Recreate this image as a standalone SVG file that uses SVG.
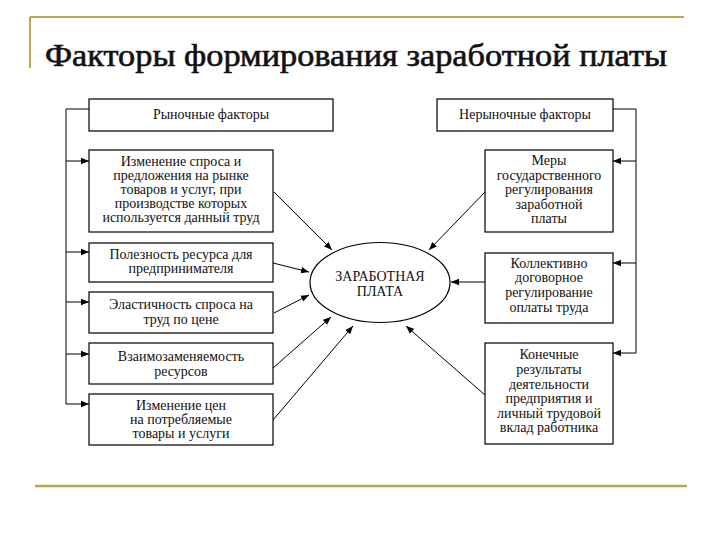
<svg xmlns="http://www.w3.org/2000/svg" width="720" height="540" viewBox="0 0 720 540">
<defs>
<style>
.box{fill:#fff;stroke:#000;stroke-width:1.2}
.t{font-family:"Liberation Serif","DejaVu Serif",serif;font-size:14px;fill:#111;text-anchor:middle}
.c{stroke:#000;stroke-width:1;fill:none}
.ca{stroke:#000;stroke-width:1;fill:none;marker-end:url(#ah)}
.deco{stroke:#bfa452;fill:none}
</style>
<marker id="ah" viewBox="0 0 10 10" refX="10" refY="5" markerWidth="8" markerHeight="8" markerUnits="userSpaceOnUse" orient="auto">
<path d="M0,1 L10,5 L0,9 z" fill="#000"/>
</marker>
</defs>
<rect width="720" height="540" fill="#fff"/>
<g id="frame">
<line class="deco" x1="30" y1="17" x2="684" y2="17" stroke-width="2"/>
<line class="deco" x1="30" y1="17" x2="30" y2="68" stroke-width="2"/>
<line class="deco" x1="35" y1="486" x2="687" y2="486" stroke-width="2.5"/>
</g>
<text id="title" x="45" y="66" font-family="Liberation Serif, DejaVu Serif, serif" font-size="31" fill="#111" stroke="#111" stroke-width="0.6" textLength="622" lengthAdjust="spacingAndGlyphs">Факторы формирования заработной платы</text>
<g id="connectors">
<polyline class="c" points="89,109 66,109 66,404"/>
<line class="ca" x1="66" y1="161" x2="89" y2="161"/>
<line class="ca" x1="66" y1="252" x2="89" y2="252"/>
<line class="ca" x1="66" y1="302" x2="89" y2="302"/>
<line class="ca" x1="66" y1="354" x2="89" y2="354"/>
<line class="ca" x1="66" y1="404" x2="89" y2="404"/>
<polyline class="c" points="613,109 636,109 636,353"/>
<line class="ca" x1="636" y1="161" x2="613" y2="161"/>
<line class="ca" x1="636" y1="263" x2="613" y2="263"/>
<line class="ca" x1="636" y1="353" x2="613" y2="353"/>
<line class="ca" x1="274" y1="192" x2="332" y2="250"/>
<line class="ca" x1="273" y1="263" x2="309" y2="272"/>
<line class="ca" x1="274" y1="313" x2="309" y2="295"/>
<line class="ca" x1="273" y1="368" x2="331" y2="317"/>
<line class="ca" x1="273" y1="420" x2="353" y2="326"/>
<line class="ca" x1="485" y1="192" x2="429" y2="250"/>
<line class="ca" x1="485" y1="282" x2="451" y2="282"/>
<line class="ca" x1="485" y1="395" x2="406" y2="326"/>
</g>
<g id="market">
<rect class="box" x="89" y="99" width="244" height="32"/>
<text class="t" x="211" y="119">Рыночные факторы</text>
</g>
<g id="demand">
<rect class="box" x="89" y="150" width="184" height="82"/>
<text class="t" x="181" y="166">Изменение спроса и</text>
<text class="t" x="181" y="180">предложения на рынке</text>
<text class="t" x="181" y="194">товаров и услуг, при</text>
<text class="t" x="181" y="208">производстве которых</text>
<text class="t" x="181" y="222">используется данный труд</text>
</g>
<g id="utility">
<rect class="box" x="89" y="243" width="184" height="39"/>
<text class="t" x="181" y="259">Полезность ресурса для</text>
<text class="t" x="181" y="273">предпринимателя</text>
</g>
<g id="elasticity">
<rect class="box" x="89" y="292" width="184" height="41"/>
<text class="t" x="181" y="309">Эластичность спроса на</text>
<text class="t" x="181" y="324">труд по цене</text>
</g>
<g id="substitution">
<rect class="box" x="89" y="343" width="184" height="41"/>
<text class="t" x="181" y="361">Взаимозаменяемость</text>
<text class="t" x="181" y="376">ресурсов</text>
</g>
<g id="prices">
<rect class="box" x="89" y="394" width="184" height="51"/>
<text class="t" x="181" y="410">Изменение цен</text>
<text class="t" x="181" y="424">на потребляемые</text>
<text class="t" x="181" y="438">товары и услуги</text>
</g>
<g id="nonmarket">
<rect class="box" x="437" y="99" width="176" height="32"/>
<text class="t" x="525" y="119">Нерыночные факторы</text>
</g>
<g id="state">
<rect class="box" x="485" y="150" width="128" height="82"/>
<text class="t" x="549" y="165">Меры</text>
<text class="t" x="549" y="180">государственного</text>
<text class="t" x="549" y="194">регулирования</text>
<text class="t" x="549" y="209">заработной</text>
<text class="t" x="549" y="223">платы</text>
</g>
<g id="collective">
<rect class="box" x="485" y="253" width="128" height="70"/>
<text class="t" x="549" y="268">Коллективно</text>
<text class="t" x="549" y="282">договорное</text>
<text class="t" x="549" y="297">регулирование</text>
<text class="t" x="549" y="312">оплаты труда</text>
</g>
<g id="results">
<rect class="box" x="485" y="343" width="128" height="101"/>
<text class="t" x="549" y="359">Конечные</text>
<text class="t" x="549" y="374">результаты</text>
<text class="t" x="549" y="389">деятельности</text>
<text class="t" x="549" y="403">предприятия и</text>
<text class="t" x="549" y="418">личный трудовой</text>
<text class="t" x="549" y="432">вклад работника</text>
</g>
<g id="wage">
<ellipse cx="380" cy="282.5" rx="70" ry="40" fill="#fff" stroke="#000" stroke-width="1.2"/>
<text class="t" x="380" y="281">ЗАРАБОТНАЯ</text>
<text class="t" x="380" y="296">ПЛАТА</text>
</g>
</svg>
